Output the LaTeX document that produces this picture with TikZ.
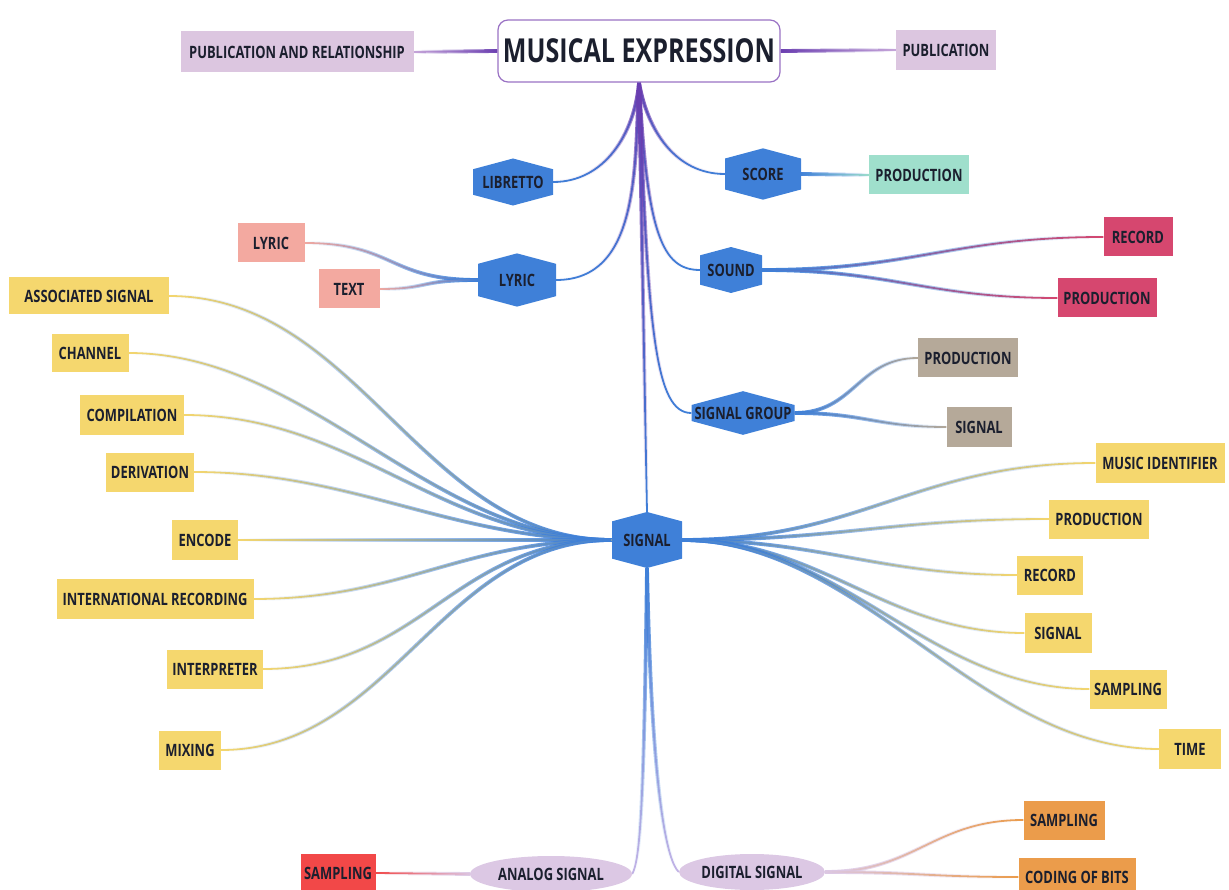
\documentclass[tikz,border=0pt]{standalone}
\usepackage{fontspec}
\setmainfont{Open Sans}[FakeStretch=0.76]
\usetikzlibrary{shapes.geometric,shapes.symbols,fadings,backgrounds}
\definecolor{cText}{HTML}{1B1F2E}
\definecolor{cHex}{HTML}{3F80D8}
\definecolor{cTrunk}{HTML}{6A3DB0}
\definecolor{cTitleB}{HTML}{9A72C4}
\definecolor{cPub}{HTML}{DCC6E0}
\definecolor{cPubL}{HTML}{C8A8DA}
\definecolor{cTeal}{HTML}{9FDFCC}
\definecolor{cPink}{HTML}{F3A9A0}
\definecolor{cCrim}{HTML}{D6476F}
\definecolor{cTan}{HTML}{B5A999}
\definecolor{cYel}{HTML}{F5D76E}
\definecolor{cRed}{HTML}{F24848}
\definecolor{cOrange}{HTML}{EB9C4B}
\definecolor{cLav}{HTML}{DCC8E4}
\definecolor{cLavL}{HTML}{C4B4E6}
\tikzfading[name=fadeR, left color=transparent!0, right color=transparent!100]
\tikzfading[name=fadeL, left color=transparent!100, right color=transparent!0]
\tikzfading[name=fadeD, top color=transparent!0, bottom color=transparent!100]
\tikzset{
  lbl/.style={text=cText, font=\fontsize{17}{20}\selectfont\bfseries},
  box/.style={lbl, rectangle, minimum height=39, inner sep=0},
  hexnode/.style={lbl, signal, signal to=north and south, signal pointer angle=150,
    fill=cHex, minimum height=42, inner sep=0},
  ell/.style={lbl, ellipse, fill=cLav, minimum height=36, inner sep=0},
  titlebox/.style={rectangle, rounded corners=10, draw=cTitleB, line width=1.2, fill=white,
    minimum width=282, minimum height=62, text=cText, font=\fontsize{33}{36}\selectfont\bfseries},
  conn/.style n args={3}{draw=#2, line width=1.8,
    postaction={draw=#1, line width=3.8, path fading=#3}},
}
\begin{document}
\begin{tikzpicture}[x=1pt,y=-1pt]
\useasboundingbox (0,0) rectangle (1229,890);
% nodes
\node[titlebox] (me) at (639,51) {MUSICAL EXPRESSION};
\node[box, fill=cPub, minimum width=233, minimum height=41] (pubrel) at (297,52) {PUBLICATION AND RELATIONSHIP};
\node[box, fill=cPub, minimum width=100, minimum height=40] (pub) at (946,50) {PUBLICATION};
\node[hexnode, minimum width=80] (lib) at (513,182) {LIBRETTO};
\node[hexnode, minimum width=76] (score) at (763,174) {SCORE};
\node[box, fill=cTeal, minimum width=100] (prodT) at (919,175) {PRODUCTION};
\node[hexnode, minimum width=78] (lyric) at (517,280) {LYRIC};
\node[box, fill=cPink, minimum width=67] (lyricB) at (271,243) {LYRIC};
\node[box, fill=cPink, minimum width=61] (textB) at (349,289) {TEXT};
\node[hexnode, minimum width=62] (sound) at (731,270) {SOUND};
\node[box, fill=cCrim, minimum width=69] (recC) at (1138,237) {RECORD};
\node[box, fill=cCrim, minimum width=99] (prodC) at (1107,298) {PRODUCTION};
\node[hexnode, minimum width=103] (sg) at (743,413) {SIGNAL GROUP};
\node[box, fill=cTan, minimum width=100] (prodG) at (968,358) {PRODUCTION};
\node[box, fill=cTan, minimum width=65] (sigG) at (979,427) {SIGNAL};
\node[hexnode, minimum width=70, minimum height=50] (sig) at (647,540) {SIGNAL};
% left yellow
\node[box, fill=cYel, minimum width=160, minimum height=37] (assoc) at (89,296) {ASSOCIATED SIGNAL};
\node[box, fill=cYel, minimum width=77, minimum height=38] (chan) at (90,353) {CHANNEL};
\node[box, fill=cYel, minimum width=104] (comp) at (132,415) {COMPILATION};
\node[box, fill=cYel, minimum width=88] (deriv) at (150,472) {DERIVATION};
\node[box, fill=cYel, minimum width=66, minimum height=40] (enc) at (205,540) {ENCODE};
\node[box, fill=cYel, minimum width=197, minimum height=40] (intrec) at (155,599) {INTERNATIONAL RECORDING};
\node[box, fill=cYel, minimum width=96] (interp) at (215,669) {INTERPRETER};
\node[box, fill=cYel, minimum width=62] (mix) at (190,750) {MIXING};
% right yellow
\node[box, fill=cYel, minimum width=129, minimum height=40] (musid) at (1160,463) {MUSIC IDENTIFIER};
\node[box, fill=cYel, minimum width=100] (prodY) at (1099,519) {PRODUCTION};
\node[box, fill=cYel, minimum width=66] (recY) at (1050,575) {RECORD};
\node[box, fill=cYel, minimum width=67, minimum height=40] (sigY) at (1058,633) {SIGNAL};
\node[box, fill=cYel, minimum width=77] (sampY) at (1128,689) {SAMPLING};
\node[box, fill=cYel, minimum width=62, minimum height=40] (timeY) at (1190,749) {TIME};
% bottom
\node[ell, minimum width=162] (analog) at (551,874) {ANALOG SIGNAL};
\node[ell, minimum width=146] (digital) at (752,872) {DIGITAL SIGNAL};
\node[box, fill=cRed, minimum width=75, minimum height=38] (sampR) at (338,873) {SAMPLING};
\node[box, fill=cOrange, minimum width=81] (sampO) at (1064,820) {SAMPLING};
\node[box, fill=cOrange, minimum width=117, minimum height=38] (coding) at (1077,877) {CODING OF BITS};
% connectors
\begin{pgfonlayer}{background}
\draw[conn={cTrunk}{cPubL}{fadeL}] (me.west) -- (pubrel.east);
\draw[conn={cTrunk}{cPubL}{fadeR}] (me.east) -- (pub.west);
\draw[conn={cTrunk}{cHex}{fadeD}] (me.south) to[out=-95,in=0] (lib.east);
\draw[conn={cTrunk}{cHex}{fadeD}] (me.south) to[out=-93,in=0] (lyric.east);
\draw[conn={cTrunk}{cHex}{fadeD}] (me.south) to[out=-80,in=180] (score.west);
\draw[conn={cTrunk}{cHex}{fadeD}] (me.south) .. controls +(8,150) and +(-38,0) .. (sound.west);
\draw[conn={cTrunk}{cHex}{fadeD}] (me.south) .. controls +(9,250) and +(-36,0) .. (sg.west);
\draw[conn={cTrunk}{cHex}{fadeD}] (me.south) -- (sig.north);
\draw[conn={cHex}{cTeal}{fadeR}] (score.east) -- (prodT.west);
\draw[conn={cHex}{cPink}{fadeL}] (lyric.west) .. controls +(-90,0) and +(90,0) .. (lyricB.east);
\draw[conn={cHex}{cPink}{fadeL}] (lyric.west) .. controls +(-60,0) and +(50,0) .. (textB.east);
\draw[conn={cHex}{cCrim}{fadeR}] (sound.east) .. controls +(150,0) and +(-150,0) .. (recC.west);
\draw[conn={cHex}{cCrim}{fadeR}] (sound.east) .. controls +(130,0) and +(-130,0) .. (prodC.west);
\draw[conn={cHex}{cTan}{fadeR}] (sg.east) .. controls +(60,0) and +(-60,0) .. (prodG.west);
\draw[conn={cHex}{cTan}{fadeR}] (sg.east) .. controls +(70,0) and +(-70,0) .. (sigG.west);
% left yellow
\foreach \n/\d in {assoc/190, chan/180, comp/170, deriv/160, enc/140, intrec/150, interp/160, mix/170}
  \draw[conn={cHex}{cYel}{fadeL}] (sig.west) .. controls +(-\d,0) and +(\d,0) .. (\n.east);
\foreach \n/\d in {musid/180, prodY/160, recY/140, sigY/140, sampY/160, timeY/180}
  \draw[conn={cHex}{cYel}{fadeR}] (sig.east) .. controls +(\d,0) and +(-\d,0) .. (\n.west);
% bottom
\draw[conn={cHex}{cLavL}{fadeD}] (sig.south) .. controls +(-3,235) and +(8,-14) .. (analog.east);
\draw[conn={cHex}{cLavL}{fadeD}] (sig.south) .. controls +(5,235) and +(-11,-10) .. (digital.west);
\draw[conn={cLav}{cRed}{fadeL}] (analog.west) -- (sampR.east);
\draw[conn={cLav}{cOrange}{fadeR}] (digital.east) .. controls +(90,0) and +(-90,0) .. (sampO.west);
\draw[conn={cLav}{cOrange}{fadeR}] (digital.east) .. controls +(90,0) and +(-90,0) .. (coding.west);
\end{pgfonlayer}
\end{tikzpicture}
\end{document}
